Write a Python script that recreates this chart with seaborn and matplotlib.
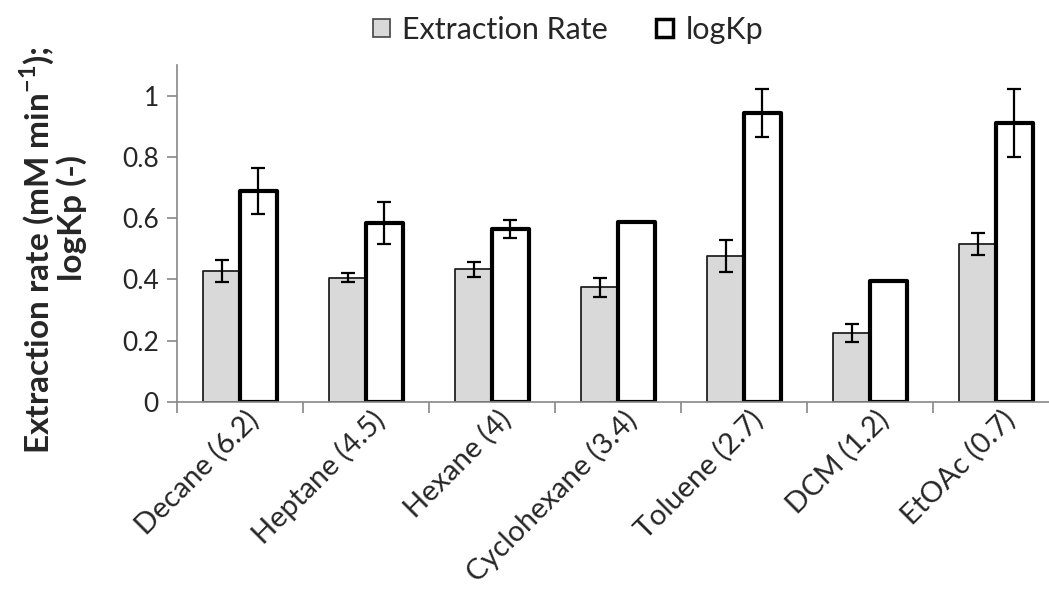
import numpy as np
import pandas as pd
import matplotlib
matplotlib.use("Agg")
import matplotlib.pyplot as plt
import matplotlib.transforms as mtransforms
import seaborn as sns
from matplotlib.patches import Patch

categories = ["Decane (6.2)", "Heptane (4.5)", "Hexane (4)", "Cyclohexane (3.4)",
              "Toluene (2.7)", "DCM (1.2)", "EtOAc (0.7)"]
extraction_rate = [0.428, 0.406, 0.433, 0.374, 0.476, 0.226, 0.515]
extraction_err = [0.035, 0.014, 0.024, 0.031, 0.053, 0.030, 0.036]
logkp = [0.689, 0.584, 0.564, 0.589, 0.943, 0.394, 0.911]
logkp_err = [0.076, 0.069, 0.029, np.nan, 0.079, np.nan, 0.110]
series_names = ["Extraction Rate", "logKp"]
y_ticks = [0, 0.2, 0.4, 0.6, 0.8, 1]
y_tick_labels = ["0", "0.2", "0.4", "0.6", "0.8", "1"]

sns.set_theme(style="white")
plt.rcParams["font.family"] = ["Lato", "DejaVu Sans"]

df = pd.DataFrame({
    "cat": categories * 2,
    "series": [series_names[0]] * len(categories) + [series_names[1]] * len(categories),
    "value": extraction_rate + logkp,
})

fig = plt.figure(figsize=(10.49, 5.91), dpi=100)
ax = fig.add_axes([177 / 1049, 1 - 402 / 591, (1059 - 177) / 1049, (402 - 65) / 591])

gray = "#d9d9d9"
sns.barplot(data=df, x="cat", y="value", hue="series", order=categories,
            hue_order=series_names, palette=[gray, "white"], width=0.58,
            errorbar=None, ax=ax, legend=False)

errs = [extraction_err, logkp_err]
for cont, err, (ec, lw) in zip(ax.containers, errs, [("#222222", 1.3), ("black", 3.0)]):
    xs, ys = [], []
    for p in cont.patches:
        p.set_edgecolor(ec)
        p.set_linewidth(lw)
        p.set_joinstyle("round")
        xs.append(p.get_x() + p.get_width() / 2)
        ys.append(p.get_height())
    ax.errorbar(xs, ys, yerr=err, fmt="none", ecolor="black", elinewidth=1.6,
                capsize=5, capthick=1.6, zorder=5)

ax.set_xlim(-0.5, len(categories) - 0.5)
ax.set_ylim(0, 1.1)
ax.set_yticks(y_ticks)
ax.set_yticklabels(y_tick_labels, fontsize=19)
ax.set_xticks(range(len(categories)))
ax.set_xticks(np.arange(-0.5, len(categories), 1), minor=True)
ax.tick_params(axis="x", which="major", length=0, pad=3)
ax.tick_params(axis="x", which="minor", length=8, color="#888888", width=1.2, direction="out", bottom=True)
ax.tick_params(axis="y", length=7, color="#888888", width=1.2, direction="out", left=True, pad=6)
ax.set_xticklabels(categories, rotation=45, ha="right", rotation_mode="anchor", fontsize=21)
offset = mtransforms.ScaledTranslation(5 / 100, 0, fig.dpi_scale_trans)
for lab in ax.get_xticklabels():
    lab.set_transform(lab.get_transform() + offset)
for s in ["top", "right"]:
    ax.spines[s].set_visible(False)
for s in ["left", "bottom"]:
    ax.spines[s].set_color("#888888")
    ax.spines[s].set_linewidth(1.2)
ax.set_xlabel("")
ax.set_ylabel("Extraction rate (mM min$^{\\mathregular{-1}}$);\n        logKp (-)", fontsize=24,
              fontweight="bold", linespacing=1.0)
ax.yaxis.set_label_coords(-0.102, 0.45)

handles = [Patch(facecolor=gray, edgecolor="#444444", linewidth=1.2),
           Patch(facecolor="white", edgecolor="black", linewidth=2.5)]
fig.legend(handles, series_names, loc="center", bbox_to_anchor=(568 / 1049, 1 - 30 / 591),
           ncol=2, frameon=False, fontsize=22, handlelength=0.55, handleheight=0.55,
           handletextpad=0.4, columnspacing=1.6)

fig.savefig("out.png", dpi=100)
